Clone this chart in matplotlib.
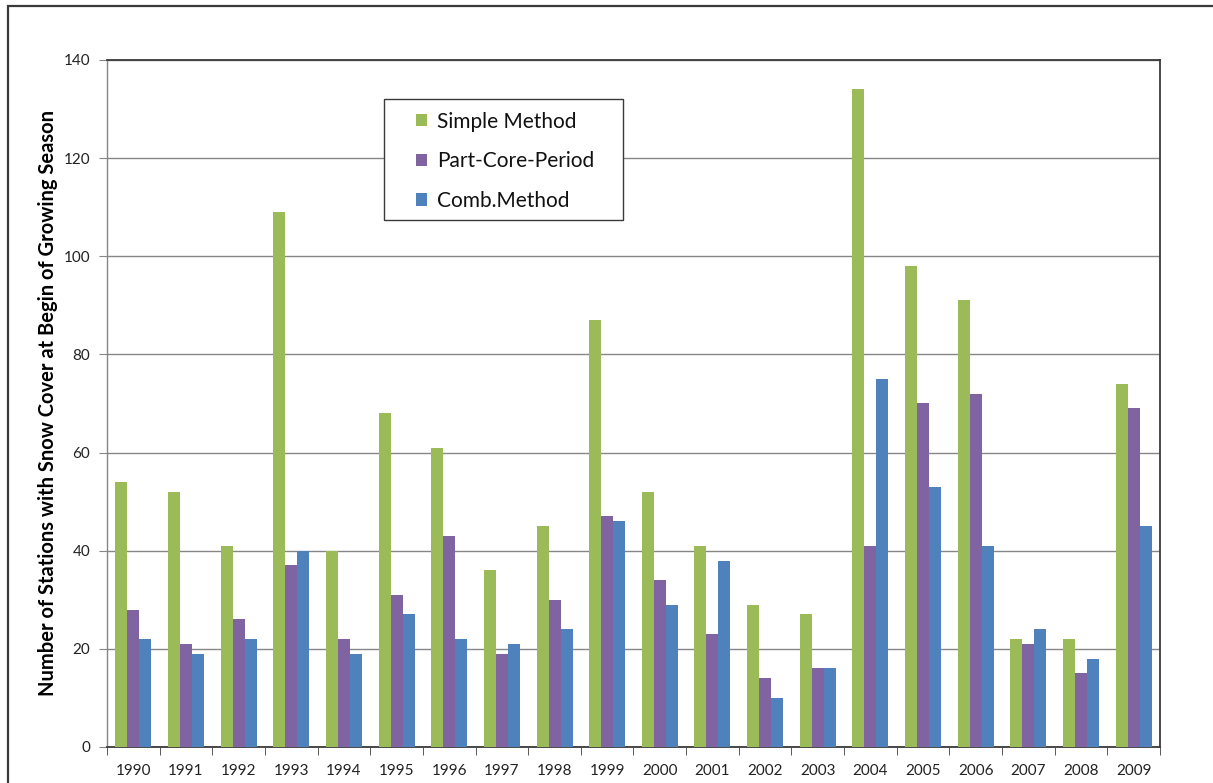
import numpy as np
import matplotlib
matplotlib.use("Agg")
import matplotlib.pyplot as plt
from matplotlib.patches import Rectangle

years = ["1990", "1991", "1992", "1993", "1994", "1995", "1996", "1997", "1998", "1999",
         "2000", "2001", "2002", "2003", "2004", "2005", "2006", "2007", "2008", "2009"]
simple_method = [54, 52, 41, 109, 40, 68, 61, 36, 45, 87, 52, 41, 29, 27, 134, 98, 91, 22, 22, 74]
part_core_period = [28, 21, 26, 37, 22, 31, 43, 19, 30, 47, 34, 23, 14, 16, 41, 70, 72, 21, 15, 69]
comb_method = [22, 19, 22, 40, 19, 27, 22, 21, 24, 46, 29, 38, 10, 16, 75, 53, 41, 24, 18, 45]
y_ticks = [0, 20, 40, 60, 80, 100, 120, 140]

plt.rcParams['font.family'] = ['Lato', 'DejaVu Sans']

fig = plt.figure(figsize=(12.13, 7.83), dpi=100)
ax = fig.add_axes([0.0882, 0.046, 0.8681, 0.8774])

# outer chart frame
fig.patches.append(Rectangle((8 / 1213, -0.05), 1.1, 1 - 6 / 783 + 0.05,
                             transform=fig.transFigure, fill=False,
                             edgecolor="#3a3a3a", linewidth=1.6))

x = np.arange(len(years))
w = 0.228
series = [
    (simple_method, "#9BBB59", "Simple Method"),
    (part_core_period, "#8064A2", "Part-Core-Period"),
    (comb_method, "#4F81BD", "Comb.Method"),
]
for i, (vals, col, lab) in enumerate(series):
    ax.bar(x + (i - 1) * w, vals, width=w, color=col, label=lab, zorder=3)

ax.set_xlim(-0.5, len(years) - 0.5)
ax.set_ylim(0, 140)
ax.set_yticks(y_ticks)
ax.set_yticklabels([str(t) for t in y_ticks], fontsize=11, color="#222222")
ax.yaxis.grid(True, color="#868686", linewidth=1.0, zorder=0)
ax.set_axisbelow(True)

ax.set_xticks(x)
ax.set_xticklabels(years, fontsize=11, color="#222222")
ax.tick_params(axis="x", which="major", length=0, pad=12)
ax.set_xticks(np.arange(-0.5, len(years) + 0.5, 1), minor=True)
ax.tick_params(axis="x", which="minor", length=6, color="#404040", direction="out")
ax.tick_params(axis="y", length=6, color="#868686", direction="out", pad=6)

for side in ["top", "right"]:
    ax.spines[side].set_color("#3a3a3a")
    ax.spines[side].set_linewidth(1.3)
ax.spines["left"].set_color("#868686")
ax.spines["left"].set_linewidth(1.0)
ax.spines["bottom"].set_color("#3a3a3a")
ax.spines["bottom"].set_linewidth(1.3)

ax.set_ylabel("Number of Stations with Snow Cover at Begin of Growing Season",
              fontsize=14.5, fontweight="bold", labelpad=4)

# legend box drawn separately so its padding can be wider than tall
ax.add_patch(Rectangle((0.263, 0.767), 0.227, 0.176, transform=ax.transAxes,
                       facecolor="white", edgecolor="#3a3a3a", linewidth=1.0,
                       zorder=4))
leg = ax.legend(loc="upper left", bbox_to_anchor=(0.2934, 0.925), fontsize=15,
                frameon=False, handlelength=0.55, handleheight=0.55,
                labelspacing=0.95, borderpad=0, handletextpad=0.45,
                borderaxespad=0)
leg.set_zorder(5)
for t in leg.get_texts():
    t.set_color("#111111")

fig.savefig("out.png", dpi=100)
